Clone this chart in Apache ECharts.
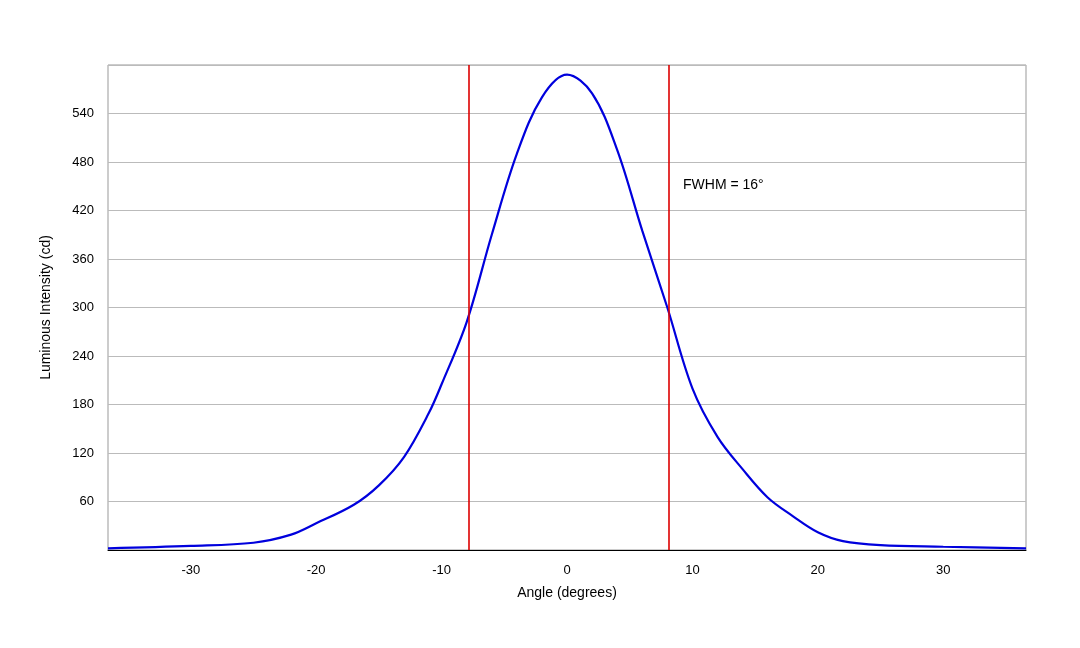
<!DOCTYPE html>
<html><head><meta charset="utf-8">
<script src="https://cdn.jsdelivr.net/npm/echarts@6/dist/echarts.min.js"></script>
<style>html,body{margin:0;background:#fff}#c{width:1080px;height:648px}</style>
</head><body><div id="c"></div>
<script>
const angles = [-36.6,-30,-25,-22,-20,-17,-15,-13,-11,-10,-8,-6,-4,-2,0,2,4,6,8,10,12,14,16,18,20,22,25,30,36.6];
const intensity = [2,5,9,19,33,56,80,115,170,205,282,390,490,560,588,565,495,395,300,200,140,100,65,42,22,11,6,4,2];
const fwhmLines = [-7.8, 8.1];
const fwhmLabel = 'FWHM = 16°';
const yTicks = [60,120,180,240,300,360,420,480,540];
const chart = echarts.init(document.getElementById('c'));
chart.setOption({
  animation:false,
  grid:{left:108,right:54,top:65,bottom:98,show:true,borderColor:'#999',borderWidth:1},
  xAxis:{type:'value',min:-36.6,max:36.6,interval:10,name:'Angle (degrees)',nameLocation:'middle',nameGap:36,
    nameTextStyle:{fontSize:14,color:'#000',fontFamily:'Liberation Sans'},
    axisLine:{show:true,lineStyle:{color:'#000'}},axisTick:{show:false},splitLine:{show:false},
    axisLabel:{fontSize:13,color:'#000',fontFamily:'Liberation Sans',margin:14,
      customValues:[-30,-20,-10,0,10,20,30]}},
  yAxis:{type:'value',min:0,max:600,interval:60,name:'Luminous Intensity (cd)',nameLocation:'middle',nameGap:55,
    nameTextStyle:{fontSize:14,color:'#000',fontFamily:'Liberation Sans'},
    axisLine:{show:false},axisTick:{show:false},
    splitLine:{lineStyle:{color:'#bbb'}},
    axisLabel:{fontSize:13,color:'#000',fontFamily:'Liberation Sans',margin:14,
      formatter:v=>yTicks.includes(v)?String(v):''}},
  series:[{type:'line',smooth:0.35,showSymbol:false,data:angles.map((a,i)=>[a,intensity[i]]),
    lineStyle:{color:'#0000dd',width:2.2},
    markLine:{silent:true,symbol:'none',label:{show:false},lineStyle:{color:'#dd0000',width:1.6,type:'solid'},
      data:fwhmLines.map(x=>({xAxis:x}))}}],
  graphic:[{type:'text',left:683,top:178,style:{text:fwhmLabel,fontSize:14,fill:'#000',fontFamily:'Liberation Sans'}}]
});
</script></body></html>
